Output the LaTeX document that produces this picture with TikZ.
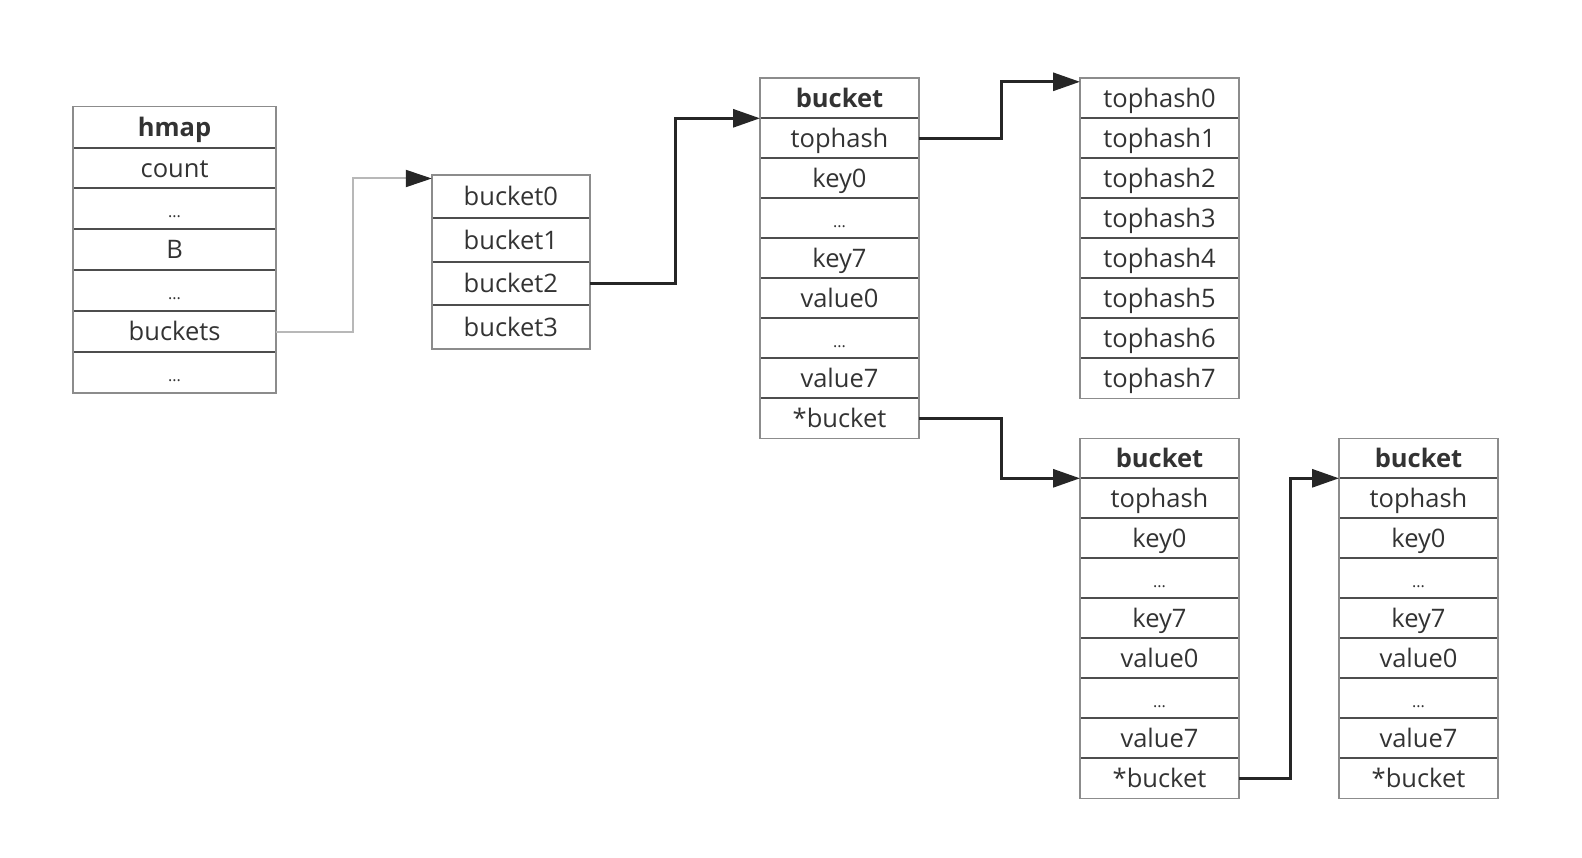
\documentclass[tikz,border=0pt]{standalone}
\usepackage{fontspec}
\setmainfont{Open Sans}
\usetikzlibrary{positioning,arrows.meta}
\definecolor{txt}{HTML}{333333}
\definecolor{bordc}{HTML}{8C8C8C}
\definecolor{sepc}{HTML}{4D4D4D}
\definecolor{arrc}{HTML}{262626}
\definecolor{garr}{HTML}{B8B8B8}
\tikzset{
  cell/.style={minimum width=159pt, minimum height=40pt, inner sep=0pt, outer sep=0pt,
    text height=21pt, text depth=3pt, font=\fontsize{25.5}{30}\selectfont, text=txt, anchor=north},
  hdr/.style={cell, font=\fontsize{25.5}{30}\selectfont\bfseries},
  dotcell/.style={cell, font=\fontsize{16}{18}\selectfont},
  hsz/.style={minimum width=203pt, minimum height=40.9pt},
  asz/.style={minimum width=158pt, minimum height=43.5pt},
  border/.style={draw=bordc, line width=1.6pt},
  sepline/.style={draw=sepc, line width=2pt},
  link/.style={draw=arrc, line width=3pt, -{Triangle[length=27pt,width=18pt,color=arrc]}},
  glink/.style={draw=garr, line width=2pt, -{Triangle[length=26pt,width=17pt,color=arrc]}},
}
\begin{document}
\begin{tikzpicture}[x=1pt,y=-1pt]
\useasboundingbox[fill=white] (0,0) rectangle (1582,858);

% ---------- hmap ----------
\node[hdr, hsz] (hh) at (174.6,106.7) {hmap};
\node[cell, hsz, below=0pt of hh] (hc) {count};
\node[dotcell, hsz, below=0pt of hc] (hd1) {...};
\node[cell, hsz, below=0pt of hd1] (hB) {B};
\node[dotcell, hsz, below=0pt of hB] (hd2) {...};
\node[cell, hsz, below=0pt of hd2] (hb) {buckets};
\node[dotcell, hsz, below=0pt of hb] (hd3) {...};
\foreach \n in {hh,hc,hd1,hB,hd2,hb} \draw[sepline] (\n.south west) -- (\n.south east);
\draw[border] (hh.north west) rectangle (hd3.south east);

% ---------- bucket array ----------
\node[cell, asz] (ba0) at (510.8,175) {bucket0};
\node[cell, asz, below=0pt of ba0] (ba1) {bucket1};
\node[cell, asz, below=0pt of ba1] (ba2) {bucket2};
\node[cell, asz, below=0pt of ba2] (ba3) {bucket3};
\foreach \n in {ba0,ba1,ba2} \draw[sepline] (\n.south west) -- (\n.south east);
\draw[border] (ba0.north west) rectangle (ba3.south east);

% ---------- bucket (first) ----------
\node[hdr] (ah) at (839.5,78.3) {bucket};
\node[cell, below=0pt of ah] (at) {tophash};
\node[cell, below=0pt of at] (ak0) {key0};
\node[dotcell, below=0pt of ak0] (akd) {...};
\node[cell, below=0pt of akd] (ak7) {key7};
\node[cell, below=0pt of ak7] (av0) {value0};
\node[dotcell, below=0pt of av0] (avd) {...};
\node[cell, below=0pt of avd] (av7) {value7};
\node[cell, below=0pt of av7] (ap) {*bucket};
\foreach \n in {ah,at,ak0,akd,ak7,av0,avd,av7} \draw[sepline] (\n.south west) -- (\n.south east);
\draw[border] (ah.north west) rectangle (ap.south east);

% ---------- tophash array ----------
\node[cell] (th0) at (1159.5,78.3) {tophash0};
\node[cell, below=0pt of th0] (th1) {tophash1};
\node[cell, below=0pt of th1] (th2) {tophash2};
\node[cell, below=0pt of th2] (th3) {tophash3};
\node[cell, below=0pt of th3] (th4) {tophash4};
\node[cell, below=0pt of th4] (th5) {tophash5};
\node[cell, below=0pt of th5] (th6) {tophash6};
\node[cell, below=0pt of th6] (th7) {tophash7};
\foreach \n in {th0,th1,th2,th3,th4,th5,th6} \draw[sepline] (\n.south west) -- (\n.south east);
\draw[border] (th0.north west) rectangle (th7.south east);

% ---------- bucket (overflow 1) ----------
\node[hdr] (bh) at (1159.5,438.3) {bucket};
\node[cell, below=0pt of bh] (bt) {tophash};
\node[cell, below=0pt of bt] (bk0) {key0};
\node[dotcell, below=0pt of bk0] (bkd) {...};
\node[cell, below=0pt of bkd] (bk7) {key7};
\node[cell, below=0pt of bk7] (bv0) {value0};
\node[dotcell, below=0pt of bv0] (bvd) {...};
\node[cell, below=0pt of bvd] (bv7) {value7};
\node[cell, below=0pt of bv7] (bp) {*bucket};
\foreach \n in {bh,bt,bk0,bkd,bk7,bv0,bvd,bv7} \draw[sepline] (\n.south west) -- (\n.south east);
\draw[border] (bh.north west) rectangle (bp.south east);

% ---------- bucket (overflow 2) ----------
\node[hdr] (ch) at (1418.5,438.3) {bucket};
\node[cell, below=0pt of ch] (ct) {tophash};
\node[cell, below=0pt of ct] (ck0) {key0};
\node[dotcell, below=0pt of ck0] (ckd) {...};
\node[cell, below=0pt of ckd] (ck7) {key7};
\node[cell, below=0pt of ck7] (cv0) {value0};
\node[dotcell, below=0pt of cv0] (cvd) {...};
\node[cell, below=0pt of cvd] (cv7) {value7};
\node[cell, below=0pt of cv7] (cp) {*bucket};
\foreach \n in {ch,ct,ck0,ckd,ck7,cv0,cvd,cv7} \draw[sepline] (\n.south west) -- (\n.south east);
\draw[border] (ch.north west) rectangle (cp.south east);

% ---------- connectors ----------
\draw[glink] (hb.east) -- ++(77,0) |- ([yshift=-3.5pt]ba0.north west);
\draw[link] (ba2.east) -- ++(86,0) |- (at.north west);
\draw[link] (at.east) -- ++(82,0) |- ([yshift=-3.5pt]th0.north west);
\draw[link] (ap.east) -- ++(82,0) |- (bt.north west);
\draw[link] (bp.east) -- ++(51,0) |- (ct.north west);
\end{tikzpicture}
\end{document}
